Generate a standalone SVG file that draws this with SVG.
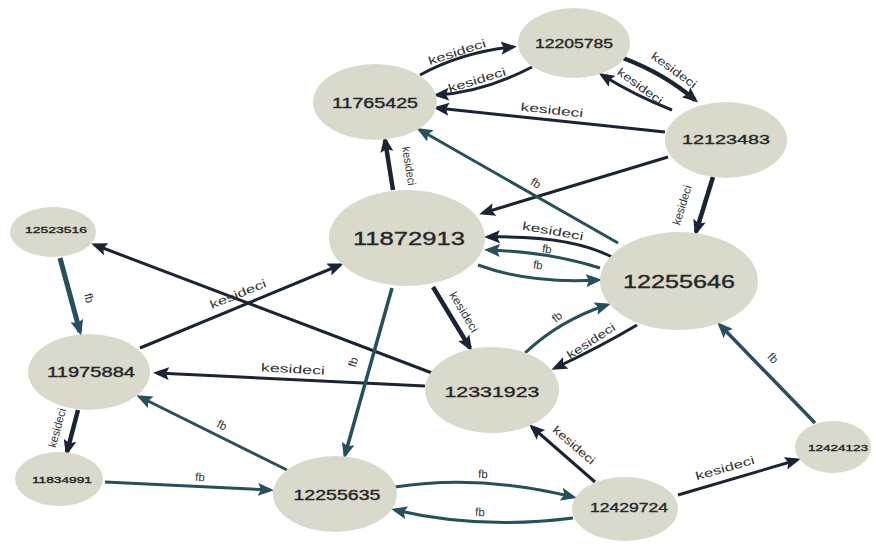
<svg xmlns="http://www.w3.org/2000/svg" width="876" height="544" viewBox="0 0 876 544">
<style>
.n{fill:#d9d9cc}
.t{font-family:"Liberation Sans",Arial,sans-serif;fill:#262626;stroke:#262626;stroke-width:0.35;text-anchor:middle}
.l{font-family:"Liberation Sans",Arial,sans-serif;font-size:11.5px;fill:#333;text-anchor:middle}
.k{fill:none;stroke:#1b2434;stroke-width:3;marker-end:url(#mk)}
.f{fill:none;stroke:#26505c;stroke-width:3;marker-end:url(#mf)}
.w{stroke-width:4.5}
</style>
<defs>
<marker id="mk" markerUnits="userSpaceOnUse" markerWidth="16" markerHeight="13" refX="12" refY="6.5" orient="auto"><path d="M0,0 L16,6.5 L0,13 L3,6.5 z" fill="#1b2434"/></marker>
<marker id="mf" markerUnits="userSpaceOnUse" markerWidth="16" markerHeight="13" refX="12" refY="6.5" orient="auto"><path d="M0,0 L16,6.5 L0,13 L3,6.5 z" fill="#26505c"/></marker>
</defs>
<rect width="876" height="544" fill="#ffffff"/>
<g id="connectors">
<path class="k" d="M420,75 Q462,52 513,47"/>
<path class="k" d="M532,67 Q484,92 437,95"/>
<path class="k w" d="M623,58 Q665,74 695,100"/>
<path class="k" d="M672,110 Q636,96 602,75"/>
<path class="k" d="M665,132 L437,108"/>
<path class="k" d="M668,157 L483,213"/>
<path class="k w" d="M713,177 L696,232"/>
<path class="k w" d="M393,190 L385,140"/>
<path class="f" d="M618,243 L420,130"/>
<path class="k" d="M612,257 Q570,235 488,237"/>
<path class="f" d="M600,268 Q550,252 488,250"/>
<path class="f" d="M478,265 Q530,284 598,280"/>
<path class="k w" d="M433,287 L470,348"/>
<path class="f" d="M525,353 Q560,320 607,305"/>
<path class="k" d="M637,325 Q600,347 555,368"/>
<path class="k" d="M432,373 L95,245"/>
<path class="k" d="M140,348 L340,265"/>
<path class="f" style="stroke-width:5" d="M60,258 L80,332"/>
<path class="k" d="M425,386 L157,373"/>
<path class="f" style="stroke-width:3.5" d="M392,288 L345,455"/>
<path class="k w" d="M78,410 L67,452"/>
<path class="f" d="M287,470 L140,397"/>
<path class="f" d="M105,482 L270,490"/>
<path class="f" d="M395,487 Q480,474 573,497"/>
<path class="f" d="M573,518 Q480,530 395,510"/>
<path class="k" d="M595,482 L532,427"/>
<path class="k" d="M678,495 L797,460"/>
<path class="f" style="stroke-width:3.5" d="M815,423 L720,325"/>
</g>
<g id="edge-labels">
<text class="l" transform="translate(457,52) rotate(-18)" y="4" textLength="60" lengthAdjust="spacingAndGlyphs">kesideci</text>
<text class="l" transform="translate(477,80) rotate(-17)" y="4" textLength="60" lengthAdjust="spacingAndGlyphs">kesideci</text>
<text class="l" transform="translate(674,70) rotate(36)" y="4" textLength="53" lengthAdjust="spacingAndGlyphs">kesideci</text>
<text class="l" transform="translate(640,86) rotate(36)" y="4" textLength="53" lengthAdjust="spacingAndGlyphs">kesideci</text>
<text class="l" transform="translate(552,110) rotate(6)" y="4" textLength="63" lengthAdjust="spacingAndGlyphs">kesideci</text>
<text class="l" transform="translate(682,205) rotate(-73)" y="4" textLength="41" lengthAdjust="spacingAndGlyphs">kesideci</text>
<text class="l" transform="translate(409,166) rotate(81)" y="4" textLength="39" lengthAdjust="spacingAndGlyphs">kesideci</text>
<text class="l" transform="translate(536,183) rotate(30)" y="4">fb</text>
<text class="l" transform="translate(553,231) rotate(10)" y="4" textLength="62" lengthAdjust="spacingAndGlyphs">kesideci</text>
<text class="l" transform="translate(547,249) rotate(8)" y="4">fb</text>
<text class="l" transform="translate(538,265) rotate(8)" y="4">fb</text>
<text class="l" transform="translate(464,312) rotate(59)" y="4" textLength="45" lengthAdjust="spacingAndGlyphs">kesideci</text>
<text class="l" transform="translate(557,317) rotate(-40)" y="4">fb</text>
<text class="l" transform="translate(591,341) rotate(-33)" y="4" textLength="55" lengthAdjust="spacingAndGlyphs">kesideci</text>
<text class="l" transform="translate(238,294) rotate(-22)" y="4" textLength="60" lengthAdjust="spacingAndGlyphs">kesideci</text>
<text class="l" transform="translate(89,298) rotate(75)" y="4">fb</text>
<text class="l" transform="translate(293,369) rotate(3)" y="4" textLength="64" lengthAdjust="spacingAndGlyphs">kesideci</text>
<text class="l" transform="translate(353,362) rotate(-74)" y="4">fb</text>
<text class="l" transform="translate(57,428) rotate(-75)" y="4" textLength="40" lengthAdjust="spacingAndGlyphs">kesideci</text>
<text class="l" transform="translate(222,425) rotate(26)" y="4">fb</text>
<text class="l" transform="translate(200,477) rotate(3)" y="4">fb</text>
<text class="l" transform="translate(483,474) rotate(2)" y="4">fb</text>
<text class="l" transform="translate(480,512) rotate(2)" y="4">fb</text>
<text class="l" transform="translate(574,445) rotate(41)" y="4" textLength="52" lengthAdjust="spacingAndGlyphs">kesideci</text>
<text class="l" transform="translate(725,468) rotate(-16)" y="4" textLength="61" lengthAdjust="spacingAndGlyphs">kesideci</text>
<text class="l" transform="translate(773,358) rotate(46)" y="4">fb</text>
</g>
<g id="n12205785"><ellipse class="n" cx="574" cy="43" rx="56" ry="35"/><text class="t" x="574" y="48" font-size="13" textLength="78" lengthAdjust="spacingAndGlyphs">12205785</text></g>
<g id="n11765425"><ellipse class="n" cx="375" cy="102" rx="62" ry="38"/><text class="t" x="375" y="108" font-size="14" textLength="86" lengthAdjust="spacingAndGlyphs">11765425</text></g>
<g id="n12123483"><ellipse class="n" cx="726" cy="140" rx="61" ry="38"/><text class="t" x="726" y="144" font-size="13.5" textLength="88" lengthAdjust="spacingAndGlyphs">12123483</text></g>
<g id="n11872913"><ellipse class="n" cx="407" cy="238" rx="78" ry="48"/><text class="t" x="409" y="245" font-size="18" textLength="112" lengthAdjust="spacingAndGlyphs">11872913</text></g>
<g id="n12255646"><ellipse class="n" cx="679" cy="281" rx="79" ry="49"/><text class="t" x="679" y="288" font-size="18" textLength="112" lengthAdjust="spacingAndGlyphs">12255646</text></g>
<g id="n12523516"><ellipse class="n" cx="53" cy="232" rx="43" ry="25"/><text class="t" x="56" y="233" font-size="9" textLength="62" lengthAdjust="spacingAndGlyphs">12523516</text></g>
<g id="n11975884"><ellipse class="n" cx="89" cy="372" rx="61" ry="38"/><text class="t" x="91" y="377" font-size="14" textLength="88" lengthAdjust="spacingAndGlyphs">11975884</text></g>
<g id="n12331923"><ellipse class="n" cx="492" cy="390" rx="67" ry="43"/><text class="t" x="492" y="397" font-size="15" textLength="95" lengthAdjust="spacingAndGlyphs">12331923</text></g>
<g id="n11834991"><ellipse class="n" cx="59" cy="479" rx="44" ry="27"/><text class="t" x="62" y="483" font-size="9" textLength="60" lengthAdjust="spacingAndGlyphs">11834991</text></g>
<g id="n12255635"><ellipse class="n" cx="335" cy="494" rx="62" ry="38"/><text class="t" x="337" y="500" font-size="14" textLength="87" lengthAdjust="spacingAndGlyphs">12255635</text></g>
<g id="n12429724"><ellipse class="n" cx="625" cy="509" rx="53" ry="32"/><text class="t" x="629" y="512" font-size="13" textLength="78" lengthAdjust="spacingAndGlyphs">12429724</text></g>
<g id="n12424123"><ellipse class="n" cx="833" cy="447" rx="38" ry="26"/><text class="t" x="838" y="451" font-size="9" textLength="60" lengthAdjust="spacingAndGlyphs">12424123</text></g>
</svg>
